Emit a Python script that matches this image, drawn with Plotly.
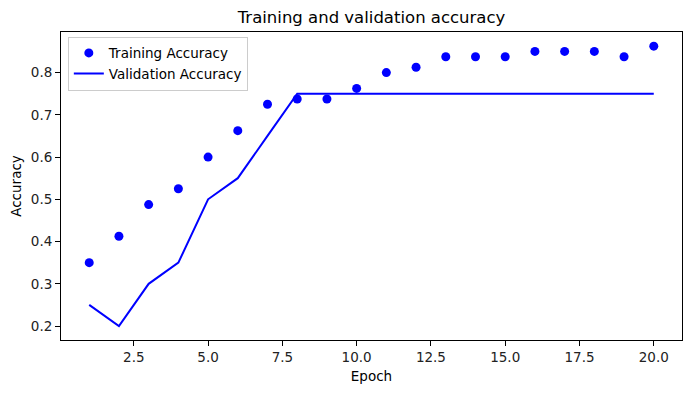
import plotly.graph_objects as go

epochs = list(range(1, 21))
train_acc = [0.35, 0.4125, 0.4875, 0.525, 0.6, 0.6625, 0.725, 0.7375, 0.7375, 0.7625,
             0.8, 0.8125, 0.8375, 0.8375, 0.8375, 0.85, 0.85, 0.85, 0.8375, 0.8625]
val_acc = [0.25, 0.2, 0.3, 0.35, 0.5, 0.55, 0.65, 0.75, 0.75, 0.75,
           0.75, 0.75, 0.75, 0.75, 0.75, 0.75, 0.75, 0.75, 0.75, 0.75]
x_ticks = [2.5, 5.0, 7.5, 10.0, 12.5, 15.0, 17.5, 20.0]
y_ticks = [0.2, 0.3, 0.4, 0.5, 0.6, 0.7, 0.8]

fig = go.Figure()
fig.add_trace(go.Scatter(x=epochs, y=train_acc, mode="markers", name="Training Accuracy",
                         marker=dict(color="blue", size=9)))
fig.add_trace(go.Scatter(x=epochs, y=val_acc, mode="lines", name="Validation Accuracy",
                         line=dict(color="blue", width=2)))

axis_common = dict(showline=True, linecolor="black", linewidth=1, mirror=True,
                   ticks="outside", ticklen=5, tickcolor="black", showgrid=False,
                   zeroline=False, tickfont=dict(size=13.5, color="#222"), automargin=False)

# page body has an 8px default margin, so the figure is shrunk by 8px to fit the window
W, H = 683, 385
fig.update_layout(
    width=W, height=H,
    margin=dict(l=53, r=9, t=24, b=53, autoexpand=False),
    paper_bgcolor="white", plot_bgcolor="white",
    font=dict(family="DejaVu Sans", color="black"),
    title=dict(text="Training and validation accuracy", x=0.5, xref="paper", xanchor="center",
               y=1 - 9 / H, yanchor="middle", font=dict(size=16.5), automargin=False),
    xaxis=dict(range=[0.05, 20.95], tickvals=x_ticks, ticktext=[f"{v:.1f}" for v in x_ticks],
               title=dict(text="Epoch", font=dict(size=13.5), standoff=7), **axis_common),
    yaxis=dict(range=[0.167, 0.896], tickvals=y_ticks, ticktext=[f"{v:.1f}" for v in y_ticks],
               title=dict(text="Accuracy", font=dict(size=13.5), standoff=8), **axis_common),
    legend=dict(x=0.011, y=0.985, xanchor="left", yanchor="top",
                bgcolor="rgba(255,255,255,0.8)", bordercolor="#cccccc", borderwidth=1,
                font=dict(size=13.5), tracegroupgap=0, itemwidth=30),
    showlegend=True,
)

fig.write_html("out.html")
